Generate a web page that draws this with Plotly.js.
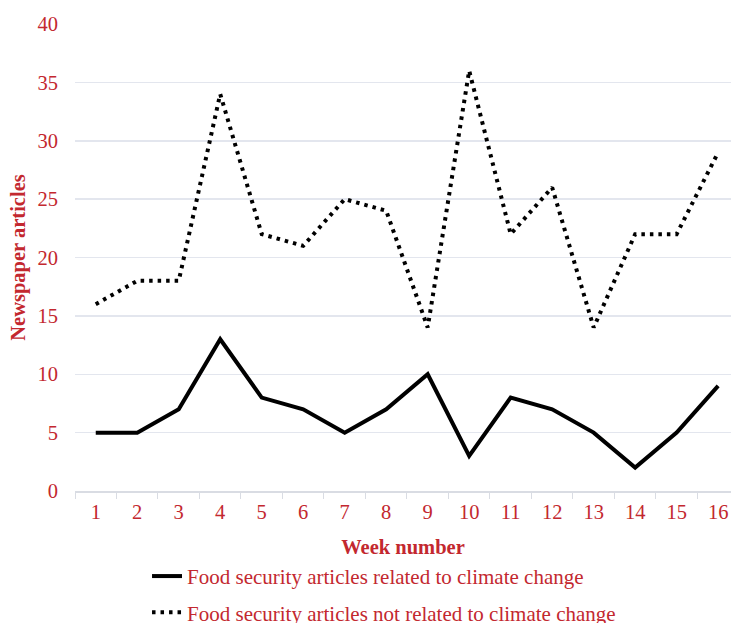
<!DOCTYPE html>
<html><head><meta charset="utf-8">
<script src="https://cdn.plot.ly/plotly-3.0.1.min.js"></script>
<style>body{margin:0;background:#fff}#chart{width:731px;height:623px}</style>
</head><body><div id="chart"></div>
<script>
const weeks = ["1","2","3","4","5","6","7","8","9","10","11","12","13","14","15","16"];
const relatedToClimate = [5,5,7,13,8,7,5,7,10,3,8,7,5,2,5,9];
const notRelatedToClimate = [16,18,18,34,22,21,25,24,14,36,22,26,14,22,22,29];
const seriesNames = ["Food security articles related to climate change","Food security articles not related to climate change"];

const red = "#c3282f";
const font = "Liberation Serif, Times New Roman, serif";

const data = [
  {x: weeks, y: relatedToClimate, name: seriesNames[0], type: "scatter", mode: "lines",
   legendgroup: "a", line: {color: "#000", width: 4}},
  {x: weeks, y: notRelatedToClimate, name: seriesNames[1], type: "scatter", mode: "lines",
   legendgroup: "b", line: {color: "#000", width: 4, dash: "3.5px,5px"}}
];

const layout = {
  width: 731, height: 623,
  margin: {l: 75, r: 0, t: 24, b: 132, autoexpand: false},
  paper_bgcolor: "#fff", plot_bgcolor: "#fff",
  font: {family: font, color: red, size: 21},
  showlegend: true,
  legend: {x: 0.1098, y: -0.139,
           xanchor: "left", yanchor: "top", orientation: "v",
           tracegroupgap: 6,
           font: {family: font, size: 21, color: red}, bgcolor: "rgba(0,0,0,0)"},
  xaxis: {type: "category", range: [-0.5, 15.31], tickson: "boundaries", ticks: "outside",
          ticklen: 6, tickcolor: "#d9dce3", showline: true, linecolor: "#d9dce3", linewidth: 1.5,
          showgrid: false, zeroline: false, tickfont: {size: 20.5, color: red}, ticklabelstandoff: 2,
          title: {text: "<b>Week number</b>", font: {size: 20.5, color: red}, standoff: 17}},
  yaxis: {range: [0, 40], dtick: 5, showgrid: true, gridcolor: "#e3e6ee", gridwidth: 1.5,
          zeroline: false, showline: false, ticks: "", tickfont: {size: 20.5, color: red},
          ticklabelstandoff: 16,
          title: {text: "<b>Newspaper articles</b>", font: {size: 20.5, color: red}, standoff: 6}}
};

Plotly.newPlot("chart", data, layout, {displayModeBar: false, staticPlot: true});
</script></body></html>
